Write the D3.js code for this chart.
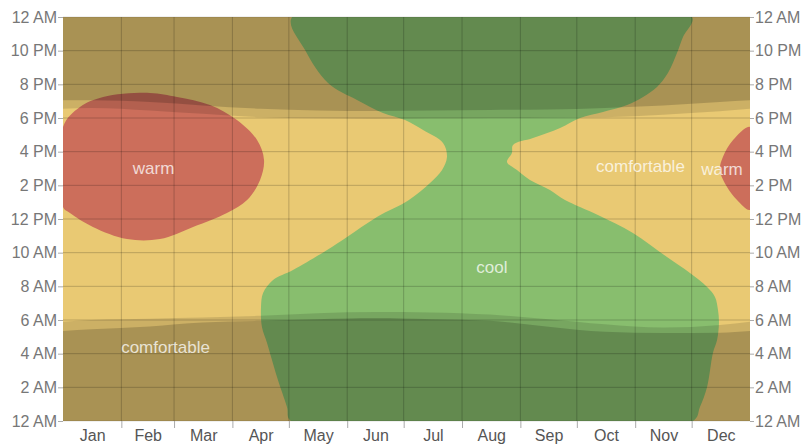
<!DOCTYPE html>
<html><head><meta charset="utf-8">
<script src="https://cdn.jsdelivr.net/npm/d3@7"></script>
<style>
html,body{margin:0;padding:0;background:#fff;}
svg{display:block;font-family:"Liberation Sans",Arial,Helvetica,sans-serif;}
</style></head><body>
<svg id="chart" width="804" height="445"></svg>
<script>
// ---------- data ----------
const months = ["Jan","Feb","Mar","Apr","May","Jun","Jul","Aug","Sep","Oct","Nov","Dec"];
const monthDays = [31,28,31,30,31,30,31,31,30,31,30,31];
const hourTicks = [0,2,4,6,8,10,12,14,16,18,20,22,24];
const hourLabels = ["12 AM","2 AM","4 AM","6 AM","8 AM","10 AM","12 PM","2 PM","4 PM","6 PM","8 PM","10 PM","12 AM"];

// sun times (hours) by day of year
const sunDays = [0,15,46,74,105,135,166,196,227,258,288,319,349,365];
const dawn    = [5.35,5.45,5.62,5.85,5.95,6.05,6.12,6.05,5.95,5.6,5.3,5.23,5.25,5.35];
const sunrise = [5.9,6.0,6.08,6.15,6.25,6.4,6.47,6.45,6.32,6.05,5.75,5.55,5.7,5.9];
const sunset  = [18.55,18.6,18.45,18.25,18.05,17.98,17.95,17.98,18.0,18.02,18.05,18.2,18.4,18.55];
const dusk    = [19.05,19.05,18.95,18.75,18.55,18.45,18.42,18.45,18.48,18.5,18.6,18.75,18.95,19.05];

// band outlines [day, hour]
const coolLeft = [[121.7,24],[128.6,22.04],[140.8,20.08],[156.2,19.07],[170.0,18.30],[181.7,17.88],[191.3,17.29],[201.9,16.52],[204.0,15.68],[201.4,14.91],[195.0,14.14],[183.8,13.13],[166.8,12.12],[150.9,10.93],[140.3,10.16],[122.2,8.97],[111.6,8.38],[106.3,7.60],[105.2,6.77],[105.7,5.58],[108.4,4.63],[113.7,2.61],[119.0,0.83],[121.1,0]];
const coolRight = [[334.2,24],[329.4,22.81],[326.2,21.86],[321.4,20.67],[315.6,19.84],[308.2,19.25],[299.7,18.77],[286.9,18.36],[274.7,18.0],[264.1,17.41],[249.7,16.81],[239.1,16.40],[238.5,15.92],[235.9,15.39],[241.2,14.91],[248.1,14.32],[258.7,13.72],[266.7,13.13],[284.2,12.24],[302.8,11.17],[320.9,9.74],[333.1,8.79],[342.2,7.96],[346.4,7.37],[348.0,6.59],[348.5,5.82],[347.5,4.81],[345.3,4.04],[342.2,2.02],[338.4,0.83],[334.7,0]];
const warmLeft = [[0,17.47],[9.0,18.65],[21.3,19.25],[46.2,19.49],[60.6,19.25],[78.1,18.77],[92.4,17.88],[103.1,16.69],[106.8,15.51],[104.7,14.32],[97.8,13.13],[87.1,12.36],[69.1,11.53],[51.5,10.81],[34.0,10.81],[15.9,11.53],[3.7,12.36],[0,12.71]];
const warmRight = [[365,17.47],[356.0,16.69],[350.6,15.68],[349.0,14.91],[352.8,13.90],[358.1,13.13],[365,12.54]];

const bandLabels = [
  {text:"warm", day:48.1, hour:14.67},
  {text:"comfortable", day:54.5, hour:4.02},
  {text:"cool", day:227.9, hour:8.79},
  {text:"comfortable", day:306.8, hour:14.82},
  {text:"warm", day:350.1, hour:14.61}
];

// ---------- chart ----------
const W = 804, H = 445;
const M = {left:63, right:54, top:17, bottom:24};
const x = d3.scaleLinear().domain([0,365]).range([M.left, W - M.right]);
const y = d3.scaleLinear().domain([0,24]).range([H - M.bottom, M.top]);

const svg = d3.select("#chart");
svg.append("defs").append("clipPath").attr("id","plotclip")
  .append("rect").attr("x",x(0)).attr("y",y(24)).attr("width",x(365)-x(0)).attr("height",y(0)-y(24));

const plot = svg.append("g").attr("clip-path","url(#plotclip)");

const COMF = "#e9c973", COOL = "#88be6e", WARM = "#cc6e5b";

plot.append("rect").attr("x",x(0)).attr("y",y(24)).attr("width",x(365)-x(0)).attr("height",y(0)-y(24)).attr("fill",COMF);

const closedLine = d3.line().x(d=>x(d[0])).y(d=>y(d[1])).curve(d3.curveCatmullRomClosed.alpha(0.5));
const coolPoly = coolLeft.concat(coolRight.slice().reverse());
plot.append("path").attr("d", closedLine(coolPoly)).attr("fill", COOL);
plot.append("path").attr("d", closedLine(warmLeft)).attr("fill", WARM);
plot.append("path").attr("d", closedLine(warmRight)).attr("fill", WARM);

// night overlays
const sunIdx = d3.range(sunDays.length);
const lowArea = arr => d3.area().x(i=>x(sunDays[i])).y0(y(0)).y1(i=>y(arr[i])).curve(d3.curveMonotoneX)(sunIdx);
const highArea = arr => d3.area().x(i=>x(sunDays[i])).y0(y(24)).y1(i=>y(arr[i])).curve(d3.curveMonotoneX)(sunIdx);
const TW = 0.12, NI = 0.17;
plot.append("path").attr("d", lowArea(sunrise)).attr("fill","#000").attr("fill-opacity",TW);
plot.append("path").attr("d", highArea(sunset)).attr("fill","#000").attr("fill-opacity",TW);
plot.append("path").attr("d", lowArea(dawn)).attr("fill","#000").attr("fill-opacity",NI);
plot.append("path").attr("d", highArea(dusk)).attr("fill","#000").attr("fill-opacity",NI);

// grid
const bounds = [0];
monthDays.forEach(d => bounds.push(bounds[bounds.length-1] + d));
const mids = months.map((m,i) => (bounds[i] + bounds[i+1]) / 2);
const grid = svg.append("g").attr("stroke","#000").attr("stroke-opacity",0.2).attr("stroke-width",1);
grid.selectAll("line.v").data(bounds.slice(1,-1)).join("line").attr("class","v")
  .attr("x1",d=>x(d)).attr("x2",d=>x(d)).attr("y1",y(24)).attr("y2",y(0));
grid.selectAll("line.h").data(hourTicks).join("line").attr("class","h")
  .attr("x1",x(0)).attr("x2",x(365)).attr("y1",d=>y(d)).attr("y2",d=>y(d))
  .attr("stroke-opacity",d => (d===0||d===24) ? 0.12 : 0.2);

// band labels
svg.append("g").selectAll("text").data(bandLabels).join("text")
  .attr("x",d=>x(d.day)).attr("y",d=>y(d.hour))
  .attr("text-anchor","middle").attr("font-size",17)
  .attr("fill","#fff").attr("fill-opacity",0.75)
  .text(d=>d.text);

// axes
function styleAxis(g, textColor){
  g.select(".domain").remove();
  g.selectAll(".tick line").attr("stroke","#aaa");
  g.selectAll(".tick text").attr("fill",textColor).attr("font-size",16)
   .attr("font-family","'Liberation Sans',Arial,sans-serif");
}
svg.append("g").attr("transform",`translate(${x(0)},0)`)
  .call(d3.axisLeft(y).tickValues(hourTicks).tickFormat((d,i)=>hourLabels[i]).tickSize(5).tickPadding(1))
  .call(g=>styleAxis(g,"#777"));
svg.append("g").attr("transform",`translate(${x(365)},0)`)
  .call(d3.axisRight(y).tickValues(hourTicks).tickFormat((d,i)=>hourLabels[i]).tickSize(4).tickPadding(1))
  .call(g=>styleAxis(g,"#777"));
svg.append("g").attr("transform",`translate(0,${y(0)})`)
  .call(d3.axisBottom(x).tickValues(bounds.slice(1,-1)).tickFormat("").tickSize(7))
  .call(g=>styleAxis(g,"#555"));
svg.append("g").attr("transform",`translate(0,${y(0)})`)
  .call(d3.axisBottom(x).tickValues(mids).tickFormat((d,i)=>months[i]).tickSize(0).tickPadding(9))
  .call(g=>styleAxis(g,"#555"));
</script>
</body></html>
